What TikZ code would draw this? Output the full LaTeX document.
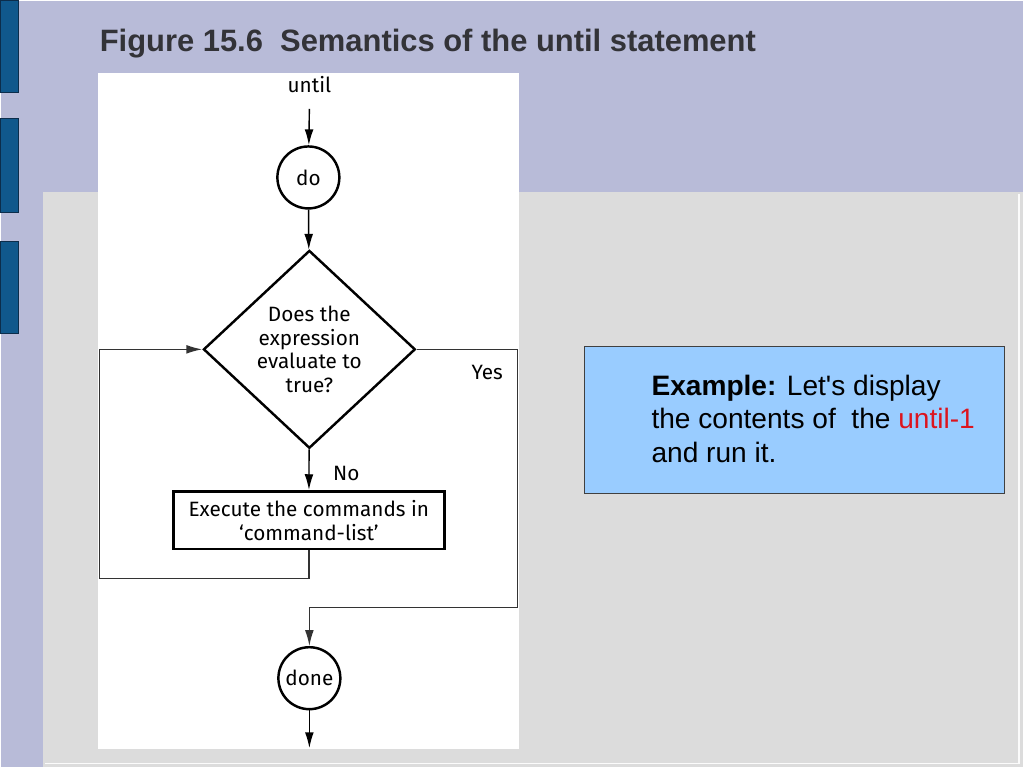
\documentclass[tikz,border=0pt]{standalone}
\usepackage{fontspec}
\setmainfont{Liberation Sans}
\newfontfamily\flowfont{Fira Sans}
\newfontfamily\notefont{Liberation Sans}
\definecolor{slLavender}{RGB}{184,187,216}
\definecolor{slGray}{RGB}{220,220,220}
\definecolor{slTab}{RGB}{16,88,140}
\definecolor{slTabEdge}{RGB}{12,45,75}
\definecolor{slNote}{RGB}{153,204,255}
\definecolor{slTitle}{RGB}{51,51,56}
\definecolor{slRed}{RGB}{220,20,30}
\usetikzlibrary{calc,positioning,arrows.meta,shapes.geometric}

\begin{document}
\begin{tikzpicture}[x=0.02cm, y=-0.02cm,
  flowtext/.style={font=\flowfont\fontsize{11.8}{13.6}\selectfont},
  termnode/.style={flowtext, circle, draw, line width=1.4pt, minimum size=1.24cm, inner sep=0pt},
  testnode/.style={flowtext, diamond, draw, line width=1.4pt, minimum width=4.24cm, minimum height=3.96cm, inner sep=0pt, align=center},
  bodynode/.style={flowtext, rectangle, draw, line width=1.4pt, minimum width=5.42cm, minimum height=1.16cm, align=center},
  arr/.style={line width=0.8pt, -{Latex[length=9pt,width=5pt]}},
  loopline/.style={line width=0.7pt, draw=black!80}]
  % slide background
  \fill[slLavender] (0,0) rectangle (1023,767);
  \fill[slGray] (42,192) rectangle (1023,767);
  \draw[white!90!slGray, line width=0.6pt] (1019,194) -- (1019,763) -- (44,763);
  \foreach \ya/\yb in {0/92, 118/212, 241/333}
    \filldraw[fill=slTab, draw=slTabEdge, line width=0.6pt] (0,\ya) rectangle (18,\yb);
  \node[anchor=west, inner sep=0pt, font=\fontsize{17.6}{21}\selectfont\bfseries, text=slTitle] (title) at (99,43) {Figure 15.6\ \ Semantics of the until statement};
  % figure panel
  \fill[white] (98,73) rectangle (519,749);
  \node[flowtext] (untiltxt) at (309,84) {until};
  \node[termnode] (docirc) at (308,177) {do};
  \node[testnode] (test) at (309,349) {Does the\\expression\\evaluate to\\true?};
  \node[bodynode] (body) at (308.5,520) {Execute the commands in\\‘command-list’};
  \node[termnode] (done) at (309,678) {done};
  \coordinate (doneout) at (309,748);
  \coordinate (loopL) at (99,578);
  \coordinate (yesR) at (517,607);
  \node[flowtext] (yeslbl) at (487,372) {Yes};
  % connectors
  \draw[arr] ([yshift=-0.2cm]untiltxt.south) -- (docirc);
  \draw[arr] (docirc) -- (test);
  \draw[arr] (test) -- node[flowtext, right=10pt, yshift=-2pt] (nolbl) {No} (body);
  \draw[loopline, arr] (body.south) |- (loopL) |- (test.west);
  \draw[loopline, arr] (test.east) -| (yesR) -| (done.north);
  \draw[arr] (done) -- (doneout);
  % note box
  \filldraw[fill=slNote, draw=black!75, line width=0.6pt] (584,346) rectangle (1004,493);
  \node[anchor=north west, inner sep=0pt, align=left, font=\notefont\fontsize{16}{19.3}\selectfont] (note) at (651,374)
    {\textbf{Example:} Let's display\\the contents of\ \ the \textcolor{slRed}{until-1}\\and run it.};
\end{tikzpicture}
\end{document}
